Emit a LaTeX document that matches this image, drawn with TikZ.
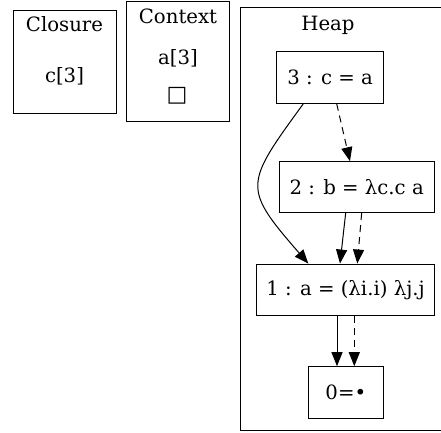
\documentclass[tikz,border=0pt]{standalone}
\usepackage{fontspec}
\setmainfont{DejaVu Serif}
\newfontfamily\symfont{DejaVu Sans}
\usetikzlibrary{arrows.meta}
\begin{document}
\begin{tikzpicture}[x=1pt,y=-1pt,
  frame/.style={draw, line width=1pt, inner sep=0pt},
  label/.style={inner sep=0pt, anchor=base, font=\fontsize{19.7}{22}\selectfont},
  heapnode/.style={draw, line width=1pt, inner sep=0pt, minimum height=51.6pt,
    font=\fontsize{19.7}{22}\selectfont},
  edge/.style={-{Triangle[length=14pt,width=11pt]}, line width=1pt},
  dashedge/.style={edge, dash pattern=on 7pt off 5pt}]
\useasboundingbox (0,0) rectangle (441,432);
\clip (0,0) rectangle (441,432);

% Closure panel
\node[frame, minimum width=103pt, minimum height=103pt] (closure) at (64.5,61.5) {};
\node[label] (closuretitle) at (64.5,31.7) {Closure};
\node[label] (closureval) at (64.5,82.5) {c[3]};

% Context panel
\node[frame, minimum width=102.5pt, minimum height=120pt] (context) at (178,61.8) {};
\node[label] (contexttitle) at (178,23.3) {Context};
\node[label] (contextval) at (178,64.5) {a[3]};
\node[label, font=\symfont\fontsize{22}{24}\selectfont] (contexthole) at (177,101) {□};

% Heap panel
\node[frame, minimum width=204.5pt, minimum height=422.3pt] (heap) at (342.75,218.85) {};
\node[label] (heaptitle) at (328,30.7) {Heap};

% Heap cells
\node[heapnode, minimum width=107pt] (n3) at (330.2,77.5) {3 : c = a};
\node[heapnode, minimum width=155.3pt, minimum height=51pt] (n2) at (356.65,187.2) {2 : b = λc.c a};
\node[heapnode, minimum width=177.6pt] (n1) at (345.5,289.85) {1 : a = (λi.i) λj.j};
\node[heapnode, minimum width=75pt] (n0) at (345.8,392.5) {0=•};

% References between cells
\draw[dashedge] ([xshift=6.5pt]n3.south) -- ([xshift=-6.7pt]n2.north);
\draw[edge] ([xshift=-26.9pt]n3.south) .. controls +(-59,81) and +(-66,-76) .. ([xshift=-37.2pt]n1.north);
\draw[edge] ([xshift=-11pt]n2.south) -- ([xshift=-5.5pt]n1.north);
\draw[dashedge] ([xshift=5pt]n2.south) -- ([xshift=11.8pt]n1.north);
\draw[edge] ([xshift=-8.5pt]n1.south) -- ([xshift=-8.8pt]n0.north);
\draw[dashedge] ([xshift=8.8pt]n1.south) -- ([xshift=8.5pt]n0.north);
\end{tikzpicture}
\end{document}
